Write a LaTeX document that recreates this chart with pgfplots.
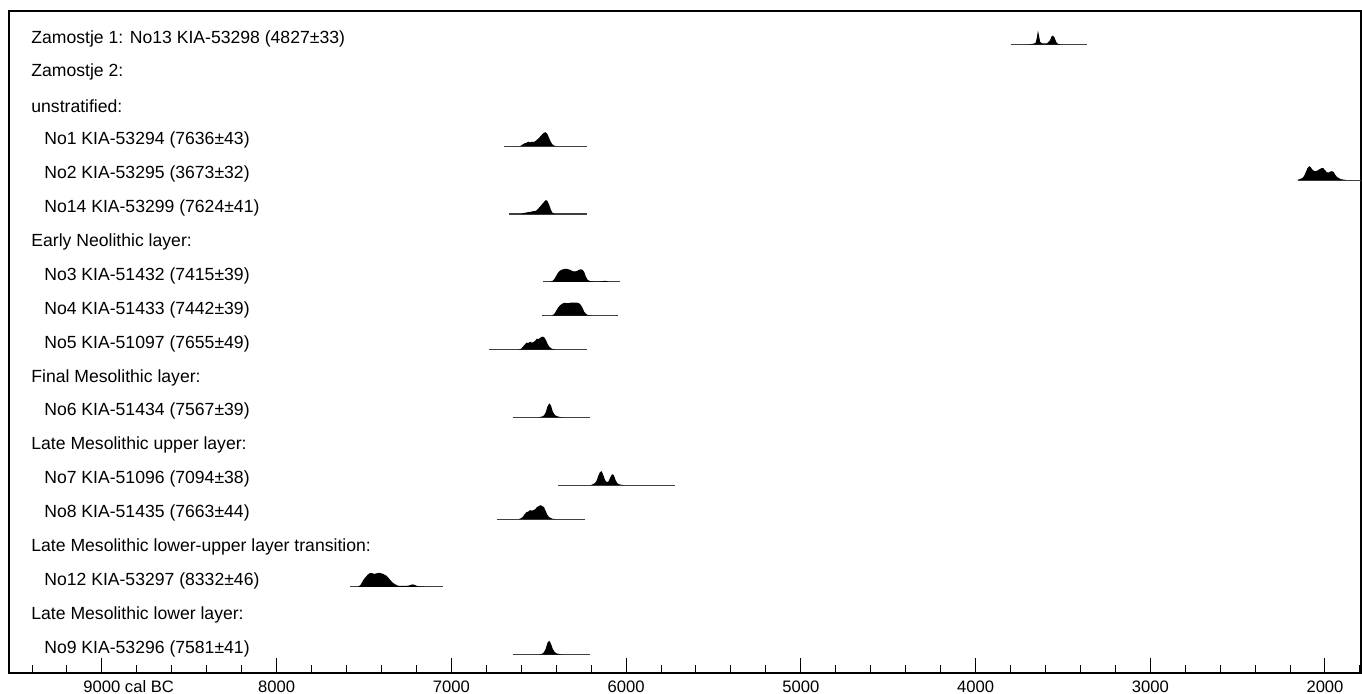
\documentclass[border=0pt]{standalone}
\usepackage{pgfplots}
\pgfplotsset{compat=1.18}
\usepackage{fontspec}
\setmainfont{Liberation Sans}
\newcommand{\lf}{\fontsize{8.8}{10}\selectfont}
\begin{document}
\begin{tikzpicture}
\begin{axis}[
  scale only axis, width=676pt, height=331pt,
  xmin=1794, xmax=9532, x dir=reverse,
  ymin=11, ymax=673, y dir=reverse,
  clip mode=individual,
  axis line style={black, line width=0.6pt},
  ytick=\empty,
  xtick={2000,3000,4000,5000,6000,7000,8000,9000},
  xticklabels={2000,3000,4000,5000,6000,7000,8000,9000\rlap{ cal BC}},
  minor xtick={1800,2200,2400,2600,2800,3200,3400,3600,3800,4200,4400,4600,4800,5200,5400,5600,5800,6200,6400,6600,6800,7200,7400,7600,7800,8200,8400,8600,8800,9200,9400},
  xtick pos=bottom, tick align=inside,
  major tick length=7.5pt, minor tick length=3.8pt,
  tick style={black, line width=0.5pt},
  xticklabel style={font=\fontsize{8.3}{9}\selectfont, inner sep=0pt},
  xticklabel shift=3.5pt,
]
\coordinate (bl) at (rel axis cs:0,0);
\coordinate (tr) at (rel axis cs:1,1);
% labels
\node[anchor=west, inner sep=0pt, font=\lf] at (axis cs:9406,38.5) {Zamostje 1: No13 KIA-53298 (4827±33)};
\node[anchor=west, inner sep=0pt, font=\lf] at (axis cs:9406,72.4) {Zamostje 2:};
\node[anchor=west, inner sep=0pt, font=\lf] at (axis cs:9406,106.3) {unstratified:};
\node[anchor=west, inner sep=0pt, font=\lf] at (axis cs:9332,140.2) {No1 KIA-53294 (7636±43)};
\node[anchor=west, inner sep=0pt, font=\lf] at (axis cs:9332,174.1) {No2 KIA-53295 (3673±32)};
\node[anchor=west, inner sep=0pt, font=\lf] at (axis cs:9332,208) {No14 KIA-53299 (7624±41)};
\node[anchor=west, inner sep=0pt, font=\lf] at (axis cs:9406,241.9) {Early Neolithic layer:};
\node[anchor=west, inner sep=0pt, font=\lf] at (axis cs:9332,275.8) {No3 KIA-51432 (7415±39)};
\node[anchor=west, inner sep=0pt, font=\lf] at (axis cs:9332,309.7) {No4 KIA-51433 (7442±39)};
\node[anchor=west, inner sep=0pt, font=\lf] at (axis cs:9332,343.6) {No5 KIA-51097 (7655±49)};
\node[anchor=west, inner sep=0pt, font=\lf] at (axis cs:9406,377.5) {Final Mesolithic layer:};
\node[anchor=west, inner sep=0pt, font=\lf] at (axis cs:9332,411.4) {No6 KIA-51434 (7567±39)};
\node[anchor=west, inner sep=0pt, font=\lf] at (axis cs:9406,445.3) {Late Mesolithic upper layer:};
\node[anchor=west, inner sep=0pt, font=\lf] at (axis cs:9332,479.2) {No7 KIA-51096 (7094±38)};
\node[anchor=west, inner sep=0pt, font=\lf] at (axis cs:9332,513.1) {No8 KIA-51435 (7663±44)};
\node[anchor=west, inner sep=0pt, font=\lf] at (axis cs:9406,547) {Late Mesolithic lower-upper layer transition:};
\node[anchor=west, inner sep=0pt, font=\lf] at (axis cs:9332,580.9) {No12 KIA-53297 (8332±46)};
\node[anchor=west, inner sep=0pt, font=\lf] at (axis cs:9406,614.8) {Late Mesolithic lower layer:};
\node[anchor=west, inner sep=0pt, font=\lf] at (axis cs:9332,648.7) {No9 KIA-53296 (7581±41)};

% No13
\addplot[black!75, line width=0.55pt] coordinates {(3797,44.5) (3362,44.5)};
\addplot[fill=black, draw=none] table[x=t, y expr=44.5-\thisrow{h}, row sep=\\] {
t h\\ 3700 0\\ 3680 0.5\\ 3665 1\\ 3655 2\\ 3648 8\\ 3643 14\\ 3637 9\\ 3630 2.5\\ 3620 1.2\\ 3605 1\\ 3590 1.2\\ 3575 4\\ 3565 8\\ 3557 9\\ 3548 7\\ 3538 2.5\\ 3528 0.6\\ 3515 0\\
};
% No1
\addplot[black!75, line width=0.55pt] coordinates {(6699,146.2) (6224,146.2)};
\addplot[fill=black, draw=none] table[x=t, y expr=146.2-\thisrow{h}, row sep=\\] {
t h\\ 6610 0\\ 6600 0.8\\ 6590 2\\ 6580 3\\ 6570 3.5\\ 6560 4.5\\ 6550 3.8\\ 6540 4.5\\ 6530 4.2\\ 6520 5\\ 6510 6.5\\ 6500 8\\ 6490 10\\ 6480 12\\ 6470 13.5\\ 6460 14\\ 6450 12\\ 6440 8\\ 6430 4\\ 6420 1.5\\ 6410 0.5\\ 6395 0\\
};
% No2
\addplot[black!75, line width=0.55pt] coordinates {(2155,180.1) (1700,180.1)};
\addplot[fill=black, draw=none] table[x=t, y expr=180.1-\thisrow{h}, row sep=\\] {
t h\\ 2160 0\\ 2145 1\\ 2130 2\\ 2120 4\\ 2110 8\\ 2100 12\\ 2090 14\\ 2080 12.5\\ 2070 10\\ 2060 9\\ 2050 9\\ 2040 10\\ 2030 11\\ 2020 12\\ 2010 12\\ 2000 10\\ 1990 8\\ 1980 7.5\\ 1970 8.5\\ 1960 9\\ 1950 8\\ 1940 5\\ 1930 3\\ 1920 2\\ 1910 1\\ 1895 0.5\\ 1875 0\\
};
% No14
\addplot[black!75, line width=0.55pt] coordinates {(6670,214) (6224,214)};
\addplot[fill=black, draw=none] table[x=t, y expr=214-\thisrow{h}, row sep=\\] {
t h\\ 6600 0\\ 6590 0.8\\ 6580 1.2\\ 6570 1.5\\ 6560 2\\ 6550 2\\ 6540 2.5\\ 6530 3\\ 6520 3\\ 6510 4\\ 6500 6\\ 6490 8\\ 6480 10\\ 6470 12\\ 6460 14\\ 6450 13\\ 6440 9\\ 6430 4\\ 6420 1\\ 6405 0\\
};
% No3
\addplot[black!75, line width=0.55pt] coordinates {(6476,281.8) (6035,281.8)};
\addplot[fill=black, draw=none] table[x=t, y expr=281.8-\thisrow{h}, row sep=\\] {
t h\\ 6435 0\\ 6420 1\\ 6410 3\\ 6400 6\\ 6390 9\\ 6380 11\\ 6370 12\\ 6360 12.5\\ 6350 13\\ 6340 13\\ 6330 12.5\\ 6320 12\\ 6310 11\\ 6300 10.5\\ 6290 10.5\\ 6280 11\\ 6270 12\\ 6260 12.5\\ 6250 12\\ 6240 10\\ 6230 5\\ 6220 2\\ 6210 1\\ 6200 0.5\\ 6180 0.3\\ 6150 0.3\\ 6130 0.8\\ 6120 1\\ 6110 0.5\\ 6100 0\\
};
% No4
\addplot[black!75, line width=0.55pt] coordinates {(6481,315.7) (6046,315.7)};
\addplot[fill=black, draw=none] table[x=t, y expr=315.7-\thisrow{h}, row sep=\\] {
t h\\ 6425 0\\ 6410 2\\ 6400 5\\ 6390 8\\ 6380 10\\ 6370 11.5\\ 6360 12.5\\ 6350 13\\ 6340 12.5\\ 6330 12.5\\ 6320 13\\ 6310 13\\ 6300 13\\ 6290 13\\ 6280 13\\ 6270 12.5\\ 6260 11\\ 6250 8\\ 6240 4\\ 6230 2\\ 6220 0.8\\ 6210 0.3\\ 6195 0\\
};
% No5
\addplot[black!75, line width=0.55pt] coordinates {(6785,349.6) (6224,349.6)};
\addplot[fill=black, draw=none] table[x=t, y expr=349.6-\thisrow{h}, row sep=\\] {
t h\\ 6615 0\\ 6600 1\\ 6590 3\\ 6580 5\\ 6570 7\\ 6560 6.5\\ 6550 8\\ 6540 7\\ 6530 7.5\\ 6520 9\\ 6510 11\\ 6500 10.5\\ 6490 12\\ 6480 13\\ 6470 12.5\\ 6460 10\\ 6450 6\\ 6440 3\\ 6430 1.5\\ 6420 0.5\\ 6400 0\\
};
% No6
\addplot[black!75, line width=0.55pt] coordinates {(6648,417.4) (6207,417.4)};
\addplot[fill=black, draw=none] table[x=t, y expr=417.4-\thisrow{h}, row sep=\\] {
t h\\ 6505 0\\ 6490 0.5\\ 6480 1\\ 6470 2\\ 6460 5\\ 6450 11\\ 6440 14\\ 6430 12\\ 6420 6\\ 6410 3\\ 6400 1.5\\ 6390 1\\ 6380 0.5\\ 6360 0\\
};
% No7
\addplot[black!75, line width=0.55pt] coordinates {(6390,485.2) (5720,485.2)};
\addplot[fill=black, draw=none] table[x=t, y expr=485.2-\thisrow{h}, row sep=\\] {
t h\\ 6205 0\\ 6190 1\\ 6180 2\\ 6170 4\\ 6160 9\\ 6150 13\\ 6140 14\\ 6130 10\\ 6120 5\\ 6110 3\\ 6100 4\\ 6090 8\\ 6080 11\\ 6070 10\\ 6060 5\\ 6050 2\\ 6040 1\\ 6030 0.5\\ 6010 0\\
};
% No8
\addplot[black!75, line width=0.55pt] coordinates {(6739,519.1) (6235,519.1)};
\addplot[fill=black, draw=none] table[x=t, y expr=519.1-\thisrow{h}, row sep=\\] {
t h\\ 6615 0\\ 6600 1\\ 6590 2.5\\ 6580 5\\ 6570 7\\ 6560 7.5\\ 6550 9\\ 6540 8.5\\ 6530 9\\ 6520 10\\ 6510 12\\ 6500 13\\ 6490 14\\ 6480 13\\ 6470 12\\ 6460 8\\ 6450 4\\ 6440 2\\ 6430 1\\ 6420 0.3\\ 6400 0\\
};
% No12
\addplot[black!75, line width=0.55pt] coordinates {(7581,586.9) (7048,586.9)};
\addplot[fill=black, draw=none] table[x=t, y expr=586.9-\thisrow{h}, row sep=\\] {
t h\\ 7535 0\\ 7520 2\\ 7510 5\\ 7500 8\\ 7490 10\\ 7480 12\\ 7470 13.5\\ 7460 14\\ 7450 13.5\\ 7440 13\\ 7430 13.5\\ 7420 14\\ 7410 14\\ 7400 13.5\\ 7390 13\\ 7380 12\\ 7370 11\\ 7360 9\\ 7350 7\\ 7340 5\\ 7330 3.5\\ 7320 2.5\\ 7310 1.5\\ 7300 1\\ 7280 1\\ 7260 1\\ 7250 1.2\\ 7240 1.5\\ 7230 2.2\\ 7220 2.5\\ 7210 2\\ 7200 1.2\\ 7190 0.6\\ 7170 0.3\\ 7150 0\\
};
% No9
\addplot[black!75, line width=0.55pt] coordinates {(6648,654.7) (6207,654.7)};
\addplot[fill=black, draw=none] table[x=t, y expr=654.7-\thisrow{h}, row sep=\\] {
t h\\ 6505 0\\ 6490 0.5\\ 6480 1\\ 6470 2.5\\ 6460 6\\ 6450 12\\ 6440 14\\ 6430 11\\ 6420 6\\ 6410 3\\ 6400 1.5\\ 6390 1\\ 6380 0.5\\ 6360 0\\
};
\end{axis}
\path (bl) ++(-4.5pt,-10pt);
\path (tr) ++(0.5pt,5.5pt);
\end{tikzpicture}
\end{document}
